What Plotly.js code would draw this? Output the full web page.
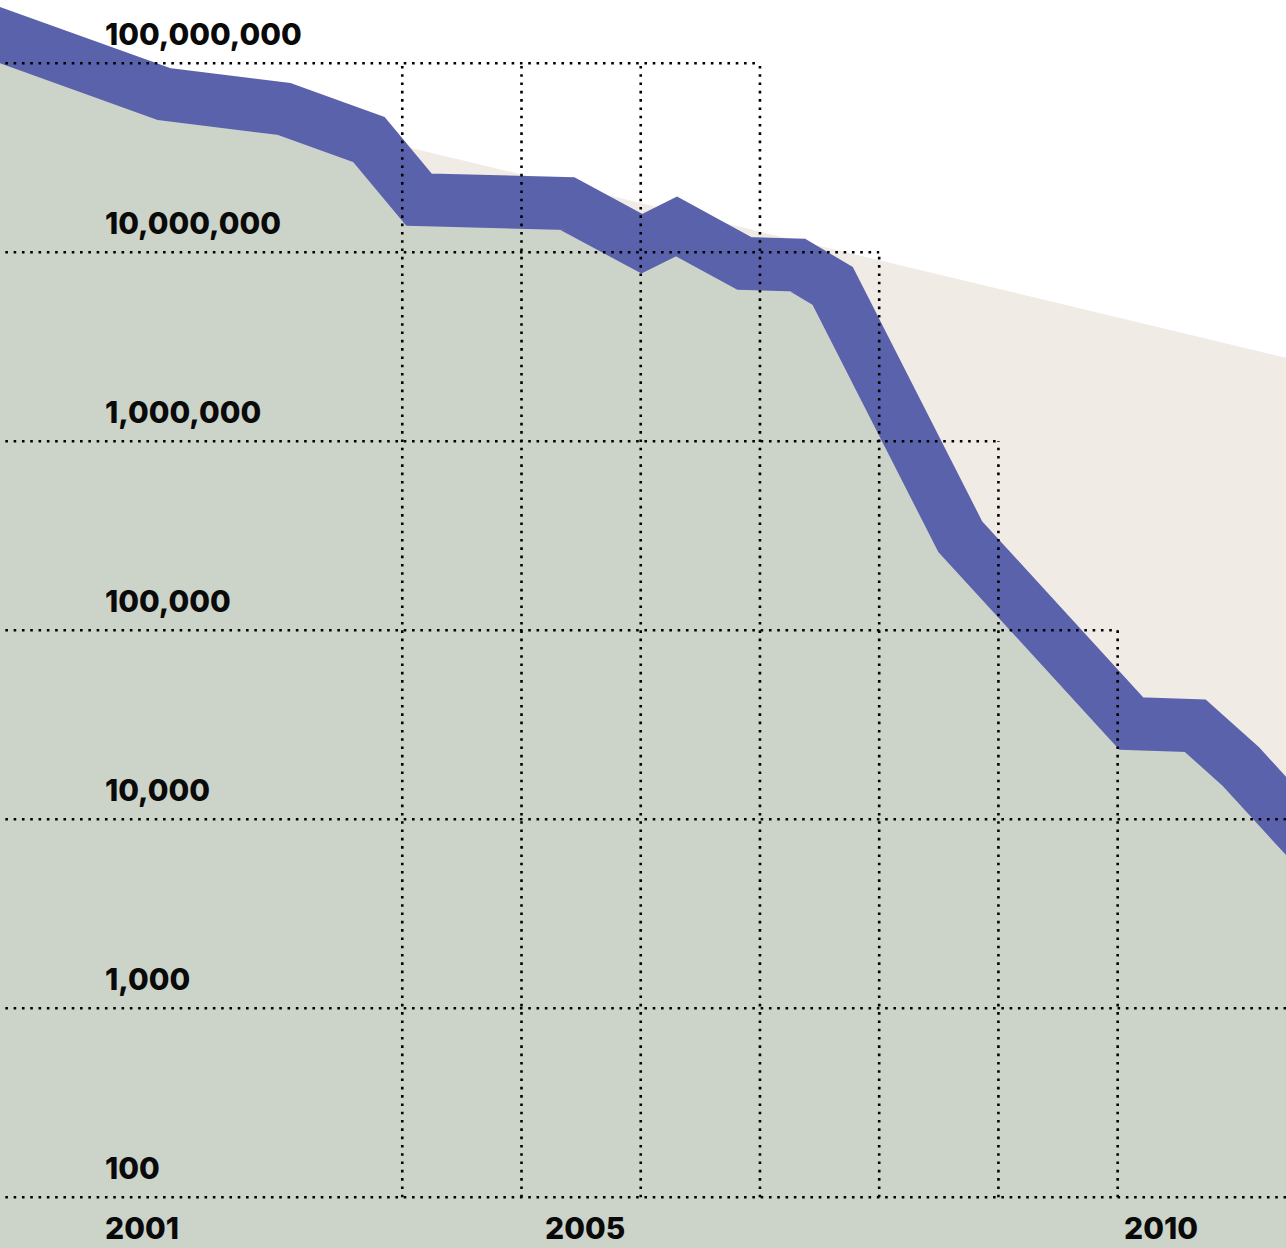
<!DOCTYPE html>
<html>
<head>
<meta charset="utf-8">
<script src="https://cdn.plot.ly/plotly-3.0.1.min.js"></script>
<style>
  html, body { margin: 0; padding: 0; background: #ffffff; }
  #chart { width: 1286px; height: 1248px; }
</style>
</head>
<body>
<div id="chart"></div>
<script>
// ---- data ----
// Cost per genome (USD), x in decimal years
const costYears = [2000.29, 2002.00, 2003.01, 2003.72, 2004.14, 2005.385, 2006.01, 2006.30, 2006.87, 2007.315, 2007.61, 2008.68, 2010.115, 2010.65, 2011.03, 2011.41, 2011.75];
const costValues = [168e6, 68.8e6, 57.3e6, 39.5e6, 19.0e6, 18.1e6, 11.1e6, 13.7e6, 8.73e6, 8.57e6, 6.64e6, 313e3, 32.1e3, 31.3e3, 19.1e3, 10.4e3, 6.1e3];

// Moore's law reference
const mooreYears = [2000.5, 2011.5];
const mooreValues = [124e6, 2.68e6];

// Axis ticks / labels
const yTickValues = [1e2, 1e3, 1e4, 1e5, 1e6, 1e7, 1e8];
const yTickLabels = ['100', '1,000', '10,000', '100,000', '1,000,000', '10,000,000', '100,000,000'];
const xLabels = ['2001', '2005', '2010'];
const xLabelAt = [2001.51, 2005.2, 2010.05];

// staircase grid
const gridYears = [2004, 2005, 2006, 2007, 2008, 2009, 2010];
const gridYearTop = [1e8, 1e8, 1e8, 1e8, 1e7, 1e6, 1e5];
const gridValueEnd = [2012, 2012, 2012, 2010, 2009, 2008, 2007];

// ---- layout constants ----
const X_RANGE = [2000.626, 2011.412];
const Y_RANGE = [1.7317, 8.335];
const PURPLE = '#5b62ac';
const GREEN = '#ccd4c9';
const BEIGE = '#f0ebe5';

// grid lines as one dotted trace
const gx = [], gy = [];
yTickValues.forEach((v, i) => {
  gx.push(1999, gridValueEnd[i], null);
  gy.push(v, v, null);
});
gridYears.forEach((yr, i) => {
  gx.push(yr, yr, null);
  gy.push(yTickValues[0], gridYearTop[i], null);
});

const traces = [
  { // Moore's law area
    x: mooreYears, y: mooreValues, type: 'scatter', mode: 'lines',
    fill: 'tozeroy', fillcolor: BEIGE, line: { width: 0, color: BEIGE },
    hoverinfo: 'skip', showlegend: false
  },
  { // cost per genome: area
    x: costYears, y: costValues, type: 'scatter', mode: 'lines',
    fill: 'tozeroy', fillcolor: GREEN, line: { width: 0, color: GREEN },
    hoverinfo: 'skip', showlegend: false
  },
  { // cost per genome: thick band
    x: costYears, y: costValues, type: 'scatter', mode: 'lines',
    line: { width: 53, color: PURPLE },
    hoverinfo: 'skip', showlegend: false
  },
  { // dotted grid
    x: gx, y: gy, type: 'scatter', mode: 'lines', connectgaps: false,
    line: { width: 2.6, color: '#000000', dash: '2.6px,5.7px' },
    hoverinfo: 'skip', showlegend: false
  }
];

const labelFont = { family: 'Inter, "Noto Sans", sans-serif', size: 30, weight: 800, color: '#0a0a0a' };

const annotations = [];
yTickValues.forEach((v, i) => {
  annotations.push({
    text: yTickLabels[i], xref: 'paper', yref: 'y',
    x: 105 / 1286, y: Math.log10(v), xanchor: 'left', yanchor: 'bottom',
    xshift: -2, yshift: 9, showarrow: false, font: labelFont
  });
});
xLabels.forEach((t, i) => {
  annotations.push({
    text: t, xref: 'x', yref: 'paper',
    x: xLabelAt[i], y: 0, xanchor: 'left', yanchor: 'bottom',
    xshift: -2, yshift: 0, showarrow: false, font: labelFont
  });
});

const layout = {
  width: 1286, height: 1248,
  margin: { l: 0, r: 0, t: 0, b: 0, pad: 0 },
  paper_bgcolor: '#ffffff', plot_bgcolor: '#ffffff',
  showlegend: false,
  xaxis: { range: X_RANGE, showgrid: false, zeroline: false, showticklabels: false, showline: false, ticks: '', fixedrange: true },
  yaxis: { type: 'log', range: Y_RANGE, showgrid: false, zeroline: false, showticklabels: false, showline: false, ticks: '', fixedrange: true },
  annotations: annotations
};

Plotly.newPlot('chart', traces, layout, { displayModeBar: false, staticPlot: true });
</script>
</body>
</html>
